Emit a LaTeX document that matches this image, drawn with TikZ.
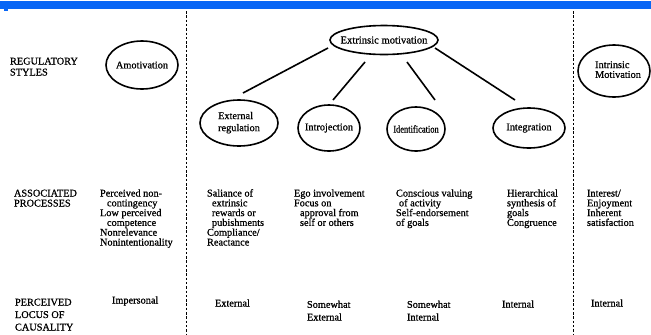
\documentclass[tikz,border=0pt]{standalone}
\usepackage{fontspec}
\usepackage{graphicx}
\setmainfont{Liberation Serif}[FakeBold=0.8]
\usetikzlibrary{shapes.geometric}
\definecolor{barblue}{RGB}{8,102,245}
\begin{document}
\begin{tikzpicture}[x=1bp,y=-1bp,
  every node/.style={font=\fontsize{10.3bp}{9.8bp}\selectfont, inner sep=0pt, outer sep=0pt},
  oval/.style={draw, ellipse, line width=1.6bp},
  conn/.style={line width=1.6bp},
  divider/.style={line width=1bp, dash pattern=on 2.5bp off 1.8bp},
  txt/.style={anchor=base west, align=left},
]
\useasboundingbox (0,0) rectangle (651,334);
\fill[barblue] (0,1) rectangle (651,9);
\fill[barblue] (4,9) rectangle (8,11);

% dividers
\coordinate (d1t) at (186,11); \coordinate (d1b) at (186,334);
\coordinate (d2t) at (573,11); \coordinate (d2b) at (573,334);
\draw[divider] (d1t) -- (d1b);
\draw[divider] (d2t) -- (d2b);

% row labels (anchor at baseline of last line)
\node[txt] (lreg) at (10,75.5) {REGULATORY\\[1.2bp]STYLES};
\node[txt] (lass) at (14,206.5) {ASSOCIATED\\[0.2bp]PROCESSES};
\node[txt] (lloc) at (15,330.5) {PERCEIVED\\[2.7bp]LOCUS OF\\[2.7bp]CAUSALITY};

% ellipses
\node[oval, minimum width=72bp, minimum height=48bp] (amot) at (142,65) {\makebox[0pt]{Amotivation}};
\node[oval, minimum width=108bp, minimum height=29bp] (em) at (384,40) {\makebox[0pt]{\fontsize{10.6bp}{10bp}\selectfont Extrinsic motivation}};
\node[oval, minimum width=78bp, minimum height=46bp] (ext) at (239,123)
  {\makebox[0pt]{\begin{tabular}{@{}l@{}}External\\[2bp]regulation\end{tabular}}};
\node[oval, minimum width=62bp, minimum height=46bp] (intro) at (329,128) {\makebox[0pt]{Introjection}};
\node[oval, minimum width=58bp, minimum height=44bp] (ident) at (416,129) {\makebox[0pt]{\scalebox{0.82}[1]{Identification}}};
\node[oval, minimum width=72bp, minimum height=40bp] (integ) at (529,128) {\makebox[0pt]{Integration}};
\node[oval, minimum width=72bp, minimum height=52bp] (intr) at (614,71)
  {\makebox[0pt]{\hspace*{8bp}\begin{tabular}{@{}l@{}}Intrinsic\\Motivation\end{tabular}}};

% connectors
\draw[conn] ([shift={(-56,8)}]em.center) -- ([shift={(4,-30)}]ext.center);
\draw[conn] ([shift={(-19,22)}]em.center) -- ([shift={(4,-28)}]intro.center);
\draw[conn] ([shift={(23,22)}]em.center) -- ([shift={(19,-29)}]ident.center);
\draw[conn] ([shift={(51,8)}]em.center) -- ([shift={(-14,-28)}]integ.center);

% associated processes
\node[txt] (pa) at (100,245.5) {Perceived non-\\\hspace*{7bp}contingency\\Low perceived\\\hspace*{7bp}competence\\Nonrelevance\\Nonintentionality};
\node[txt] (pb) at (207,245.5) {Saliance of\\\hspace*{5bp}extrinsic\\\hspace*{5bp}rewards or\\\hspace*{5bp}pubishments\\Compliance/\\Reactance};
\node[txt] (pc) at (294,225.9) {Ego involvement\\Focus on\\\hspace*{6bp}approval from\\\hspace*{6bp}self or others};
\node[txt] (pd) at (396,225.9) {Conscious valuing\\\hspace*{3bp}of activity\\Self-endorsement\\of goals};
\node[txt] (pe) at (507,225.9) {Hierarchical\\synthesis of\\goals\\Congruence};
\node[txt] (pf) at (587,225.9) {Interest/\\Enjoyment\\Inherent\\satisfaction};

% locus of causality
\node[txt] (ca) at (112,303.5) {Impersonal};
\node[txt] (cb) at (215,306.5) {External};
\node[txt] (cc) at (307,320.5) {Somewhat\\[2.9bp]External};
\node[txt] (cd) at (407,320.5) {Somewhat\\[2.9bp]Internal};
\node[txt] (ce) at (502,307.5) {Internal};
\node[txt] (cf) at (591,306.5) {Internal};
\end{tikzpicture}
\end{document}
